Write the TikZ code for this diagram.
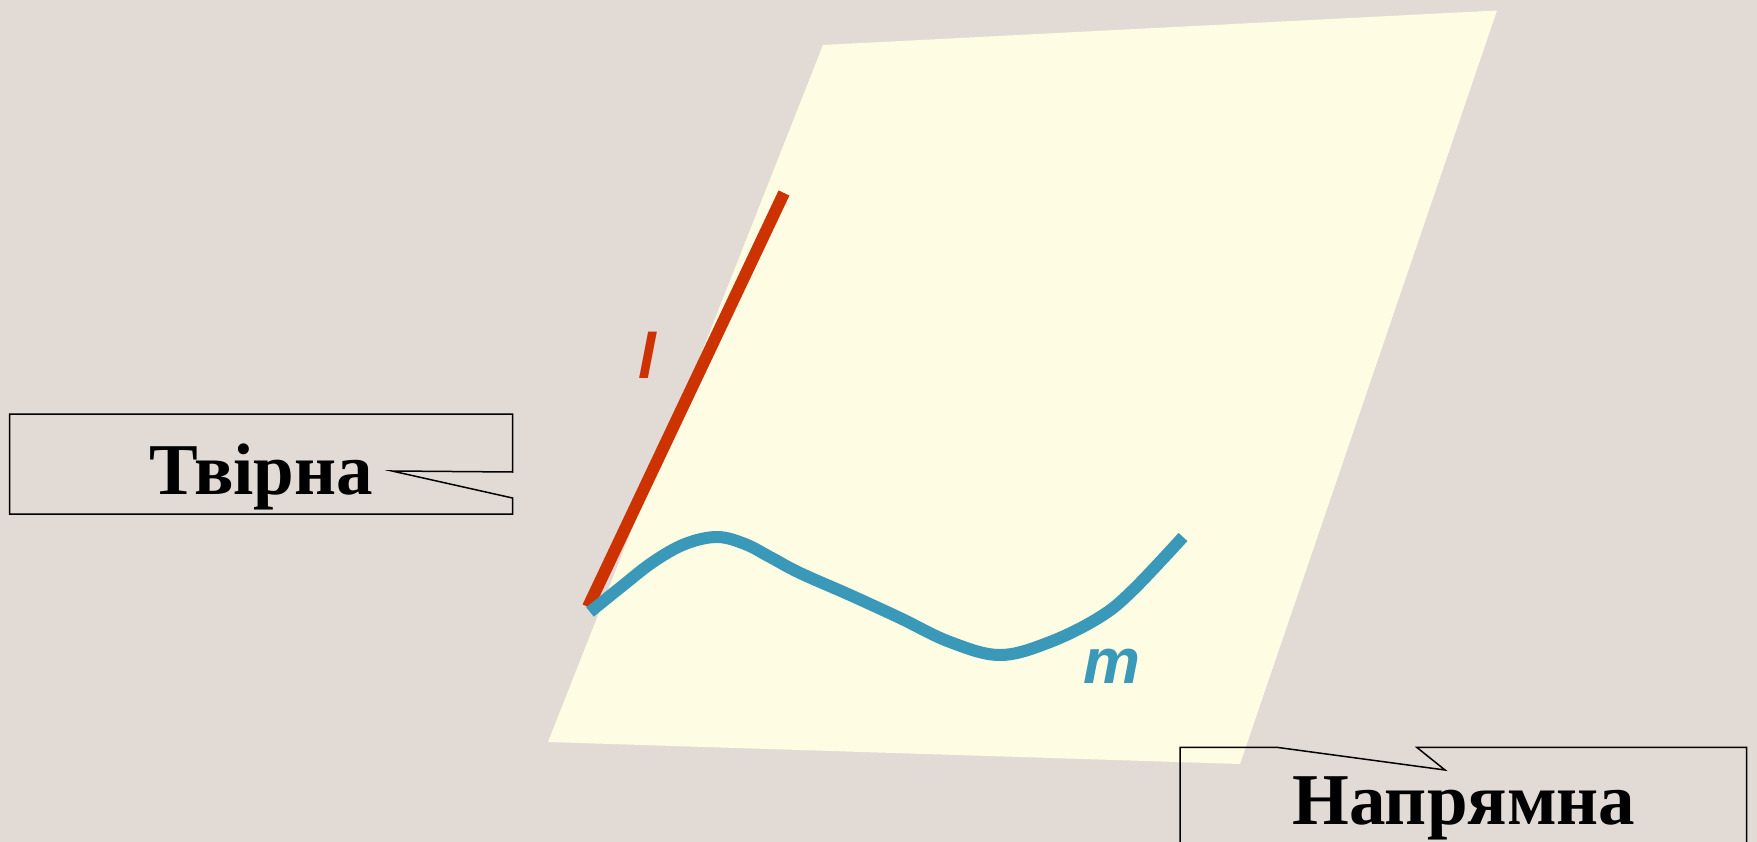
\documentclass[tikz,border=0pt]{standalone}
\usepackage{fontspec}
\setmainfont{Liberation Serif}
\newfontfamily\lsans{Liberation Sans}
\definecolor{bgc}{HTML}{E2DBD5}
\definecolor{planec}{HTML}{FEFCE2}
\definecolor{redl}{HTML}{CC3300}
\definecolor{bluem}{HTML}{3A98B9}
\tikzset{
  callout/.style={draw=black, line width=1.5pt},
  calltext/.style={inner sep=0pt, anchor=base, font=\fontsize{73}{80}\selectfont\bfseries},
  letter/.style={inner sep=0pt, anchor=base, font=\lsans\fontsize{64}{70}\selectfont\bfseries\itshape},
}
\begin{document}
\begin{tikzpicture}[x=1pt,y=-1pt]
\fill[bgc] (0,0) rectangle (1757,842);
\useasboundingbox (0,0) rectangle (1757,842);
% plane
\fill[planec] (823,45) -- (1497,10.5) -- (1240,764) -- (548,742) -- cycle;
% generatrix l
\coordinate (ltop) at (784,193);
\coordinate (lbot) at (588,607);
\draw[redl, line width=12pt] (ltop) -- (lbot);
\node[letter, text=redl] (lab) at (647,378) {l};
% directrix m
\draw[bluem, line width=12pt] plot[smooth, tension=0.6] coordinates {
 (590,612) (621,587) (653,562) (685,544) (717,537) (745,544) (770,557)
 (800,573) (850,595) (900,618) (950,642) (1000,655)
 (1050,642) (1100,617) (1133,590) (1183,537)};
\node[letter, text=bluem] (mab) at (1112,683) {m};
% callout 1
\draw[callout] (9.5,414) -- (512.5,414) -- (512.5,472) -- (392,471) -- (512.5,498) -- (512.5,514) -- (9.5,514) -- cycle;
\node[calltext] (tvirna) at (261,494.5) {Твірна};
% callout 2
\draw[callout] (1180,860) -- (1180,747.3) -- (1276.7,747.3) -- (1445,770) -- (1416.7,747.3) -- (1746.5,747.3) -- (1746.5,860);
\node[calltext] (napr) at (1464,824) {Напрямна};
\end{tikzpicture}
\end{document}
